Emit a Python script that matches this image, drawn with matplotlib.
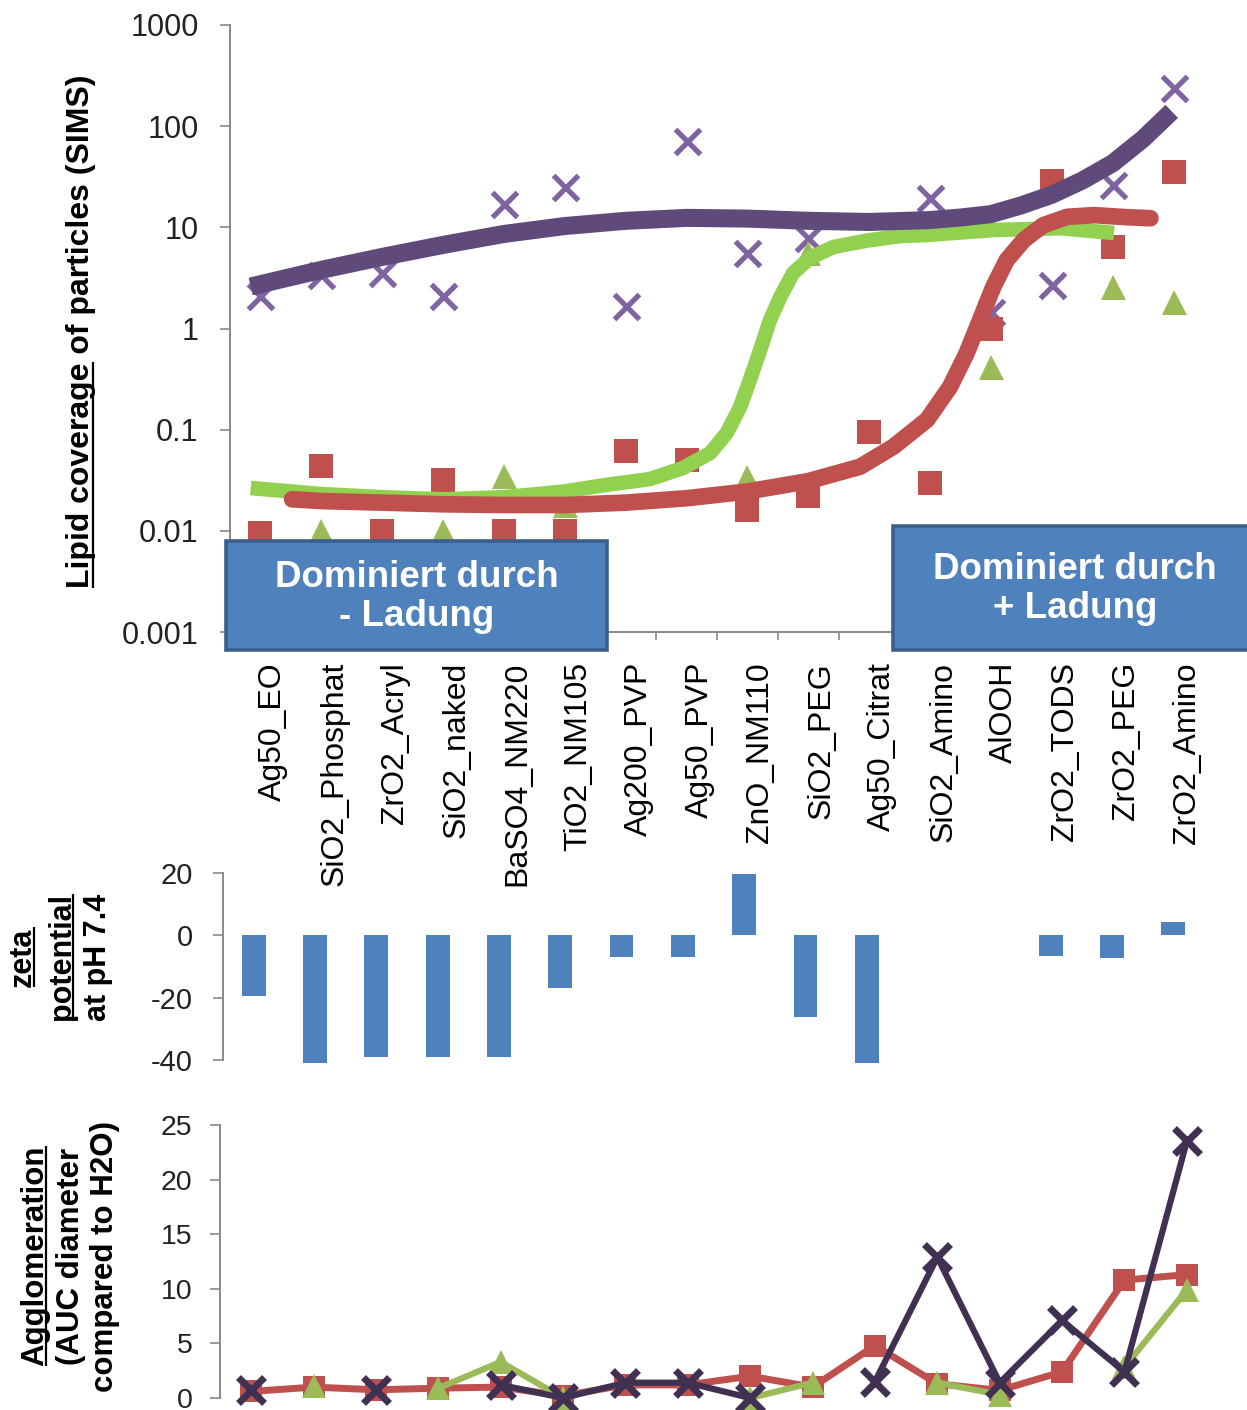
import numpy as np
import matplotlib
matplotlib.use("Agg")
import matplotlib.pyplot as plt
from matplotlib.patches import Rectangle
from matplotlib.lines import Line2D
from matplotlib.font_manager import FontProperties
from matplotlib.transforms import ScaledTranslation

plt.rcParams['font.family'] = ['Liberation Sans', 'DejaVu Sans']
plt.rcParams['axes.unicode_minus'] = False

W, H, DPI = 1247, 1410, 100
nan = np.nan

categories = ["Ag50_EO", "SiO2_Phosphat", "ZrO2_Acryl", "SiO2_naked", "BaSO4_NM220",
              "TiO2_NM105", "Ag200_PVP", "Ag50_PVP", "ZnO_NM110", "SiO2_PEG",
              "Ag50_Citrat", "SiO2_Amino", "AlOOH", "ZrO2_TODS", "ZrO2_PEG", "ZrO2_Amino"]

# Lipid coverage (SIMS), three lipid series
sims_purple = [2.1, 3.4, 3.5, 2.1, 17, 25, 1.65, 71, 5.6, 7.9, nan, 19.5, 1.45, 2.7, 26, 240]
sims_red = [0.0095, 0.044, 0.010, 0.032, 0.010, 0.010, 0.061, 0.050, 0.016, 0.022,
            0.094, 0.030, 1.0, 28.7, 6.4, 35]
sims_green = [nan, 0.0100, nan, 0.0100, 0.035, 0.018, nan, nan, 0.034, 5.6,
              nan, nan, 0.42, nan, 2.6, 1.83]

# Fitted trend curves (category position, coverage)
purple_fit_x = [-0.16, 1, 2, 3, 4, 5, 6, 7, 8, 9, 10, 11, 11.5, 12, 12.5, 13, 13.5,
                14, 14.5, 14.97]
purple_fit_y = [2.6, 3.8, 5.1, 6.7, 8.6, 10.3, 11.6, 12.4, 12.2, 11.6, 11.3, 11.8,
                12.5, 13.5, 16.5, 21, 29, 43, 75, 140]
green_fit_x = [-0.16, 1, 2, 3, 4, 5, 5.58, 6.40, 6.94, 7.39, 7.66, 7.88, 8.04, 8.21,
               8.37, 8.54, 8.75, 9.03, 9.41, 9.97, 10.51, 10.95, 12.04, 13.14, 14.02]
green_fit_y = [0.0265, 0.0231, 0.0215, 0.0205, 0.0215, 0.0245, 0.0279, 0.0325, 0.0418,
               0.0588, 0.0927, 0.1675, 0.31, 0.614, 1.21, 2.05, 3.54, 4.98, 6.39, 7.4,
               8.2, 8.4, 9.4, 9.8, 8.8]
red_fit_x = [0.52, 1, 2, 3, 4, 5, 6, 7, 8, 9, 9.85, 10.40, 10.95, 11.33, 11.60, 11.82,
             12.04, 12.26, 12.54, 12.86, 13.25, 13.69, 14.23, 14.62]
red_fit_y = [0.0205, 0.0197, 0.019, 0.0183, 0.018, 0.018, 0.019, 0.021, 0.0245, 0.031,
             0.043, 0.068, 0.125, 0.266, 0.569, 1.21, 2.59, 4.75, 7.5, 10.5, 12.7, 13.2,
             12.6, 12.3]

log_ticks = [0.001, 0.01, 0.1, 1, 10, 100, 1000]
log_tick_labels = ["0.001", "0.01", "0.1", "1", "10", "100", "1000"]

# Zeta potential at pH 7.4
zeta = [-19.5, -41, -39, -39, -39, -17, -6.8, -6.8, 19.6, -26.3, -41, nan, nan, -6.7, -7.4, 4.2]
zeta_ticks = [-40, -20, 0, 20]

# Agglomeration (AUC diameter compared to H2O)
agg_red = [0.6, 1.0, 0.75, 0.9, 1.0, 0.2, 1.2, 1.2, 2.0, 1.0, 4.8, 1.3, 0.7, 2.4, 10.8, 11.3]
agg_green = [nan, 1.1, nan, 0.9, 3.3, 0.0, nan, nan, 0.0, 1.4, nan, 1.4, 0.3, nan, 2.8, 9.9]
agg_purple = [0.7, nan, 0.7, nan, 1.2, 0.0, 1.4, 1.4, 0.0, nan, 1.5, 12.9, 1.4, 7.1, 2.4, 23.5]
agg_ticks = [0, 5, 10, 15, 20, 25]

GRAY = '#898989'
RED = '#C0504D'
GREEN_M = '#9BBB59'
GREEN_L = '#92D050'
PURPLE_M = '#8064A2'
PURPLE_L = '#604A7B'
NAVY = '#403152'
BLUE = '#4F81BD'
BLUE_EDGE = '#3A5F8C'

fig = plt.figure(figsize=(W / DPI, H / DPI), dpi=DPI)


def ax_rect(left, top, right, bottom):
    return [left / W, 1 - bottom / H, (right - left) / W, (bottom - top) / H]


def style_left_axis(ax, size, pad_px):
    for s in ['top', 'right', 'bottom']:
        ax.spines[s].set_visible(False)
    ax.spines['left'].set_color(GRAY)
    ax.spines['left'].set_linewidth(1.4)
    ax.tick_params(axis='y', which='major', direction='out', length=7.5, width=1.2,
                   color=GRAY, labelsize=size, pad=pad_px * 72 / DPI, labelcolor='#222222')
    ax.tick_params(axis='y', which='minor', length=0)


x = np.arange(len(categories))

# ---------------- Lipid coverage (log scale) ----------------
ax1 = fig.add_axes(ax_rect(230, 25, 1204, 632))
ax1.set_yscale('log')
ax1.set_ylim(0.001, 1000)
ax1.set_xlim(-0.5, 15.5)
style_left_axis(ax1, 22, 21)
ax1.spines['bottom'].set_visible(True)
ax1.spines['bottom'].set_color(GRAY)
ax1.spines['bottom'].set_linewidth(1.4)
ax1.set_yticks(log_ticks)
ax1.set_yticklabels(log_tick_labels)
ax1.set_xticks(np.arange(-0.5, 16, 1))
ax1.set_xticklabels([])
ax1.tick_params(axis='x', direction='out', length=6, width=1.2, color=GRAY)
ax1.patch.set_visible(False)

ax1.plot(x, sims_purple, ls='none', marker='x', ms=18, mew=3.8, color=PURPLE_M, zorder=3, clip_on=False)
ax1.plot(x, sims_red, ls='none', marker='s', ms=17, mew=0, color=RED, zorder=3, clip_on=False)
ax1.plot(x, sims_green, ls='none', marker='^', ms=18, mew=0, color=GREEN_M, zorder=3, clip_on=False)

ax1.plot(green_fit_x, green_fit_y, color=GREEN_L, lw=10.5, solid_capstyle='butt',
         solid_joinstyle='round', zorder=4)
ax1.plot(red_fit_x, red_fit_y, color=RED, lw=12, solid_capstyle='round',
         solid_joinstyle='round', zorder=5)
ax1.plot(purple_fit_x, purple_fit_y, color=PURPLE_L, lw=13, solid_capstyle='butt',
         solid_joinstyle='round', zorder=6)

# category names below the log axis
lab_tr = ax1.get_xaxis_transform() + ScaledTranslation(13 / DPI, -30 / DPI, fig.dpi_scale_trans)
for i, name in enumerate(categories):
    ax1.text(i, 0, name, transform=lab_tr, rotation=90, ha='center', va='top',
             fontsize=23, color='black', clip_on=False)

# ---------------- Zeta potential ----------------
ax2 = fig.add_axes(ax_rect(223, 873, 1204, 1060))
ax2.set_ylim(-40, 20)
ax2.set_xlim(-0.5, 15.5)
style_left_axis(ax2, 21, 20)
ax2.set_yticks(zeta_ticks)
ax2.set_xticks([])
ax2.patch.set_visible(False)
ax2.bar(x, zeta, width=0.39, color=BLUE, edgecolor='none', clip_on=False)

# ---------------- Agglomeration ----------------
ax3 = fig.add_axes(ax_rect(220, 1125, 1218, 1398))
ax3.set_ylim(0, 25)
ax3.set_xlim(-0.5, 15.5)
style_left_axis(ax3, 20.5, 17)
ax3.set_yticks(agg_ticks)
ax3.set_xticks([])
ax3.patch.set_visible(False)
ax3.plot(x, agg_red, color=RED, lw=5, marker='s', ms=16, mew=0, clip_on=False, zorder=3)
ax3.plot(x, agg_green, color=GREEN_M, lw=4.5, marker='^', ms=17, mew=0, clip_on=False, zorder=4)
ax3.plot(x, agg_purple, color=NAVY, lw=4.5, marker='x', ms=19, mew=5, clip_on=False, zorder=5)

# ---------------- Annotation boxes ----------------
for (l, t, r, b) in [(226, 541, 607, 650), (893, 526, 1262, 650)]:
    fig.patches.append(Rectangle((l / W, 1 - b / H), (r - l) / W, (b - t) / H,
                                 transform=fig.transFigure, facecolor=BLUE,
                                 edgecolor=BLUE_EDGE, lw=2.6, zorder=10))
fig.text(417 / W, 1 - 597 / H, "Dominiert durch\n- Ladung", ha='center', va='center',
         multialignment='center', fontsize=26.5, weight='bold', color='white',
         linespacing=1.15, zorder=11)
fig.text(1075 / W, 1 - 589 / H, "Dominiert durch\n+ Ladung", ha='center', va='center',
         multialignment='center', fontsize=26.5, weight='bold', color='white',
         linespacing=1.15, zorder=11)

# ---------------- Axis titles (vertical, partly underlined) ----------------
renderer = fig.canvas.get_renderer()


def vlabel(x_base, y_center, text, size, underline_part=None):
    fig.text(x_base / W, 1 - y_center / H, text, rotation=90, rotation_mode='anchor',
             ha='center', va='baseline', fontsize=size, weight='bold', color='black')
    if underline_part:
        prop = FontProperties(family=['Liberation Sans', 'DejaVu Sans'], weight='bold', size=size)
        w_full = renderer.get_text_width_height_descent(text, prop, ismath=False)[0]
        w_sub = renderer.get_text_width_height_descent(underline_part, prop, ismath=False)[0]
        yc = H - y_center
        y0 = yc - w_full / 2
        y1 = y0 + w_sub
        xu = x_base + 0.11 * size * DPI / 72
        fig.add_artist(Line2D([xu / W, xu / W], [y0 / H, y1 / H], transform=fig.transFigure,
                              color='black', lw=1.6, solid_capstyle='butt'))


vlabel(89, 331, "Lipid coverage of particles (SIMS)", 23, "Lipid coverage")
vlabel(31, 957, "zeta", 22, "zeta")
vlabel(70, 957, "potential", 22, "potential")
vlabel(106, 957, "at pH 7.4", 22)
vlabel(43, 1256, "Agglomeration", 22.5, "Agglomeration")
vlabel(79, 1256, "(AUC diameter", 22.5)
vlabel(113, 1256, "compared to H2O)", 22.5)

fig.savefig("out.png", dpi=DPI)
